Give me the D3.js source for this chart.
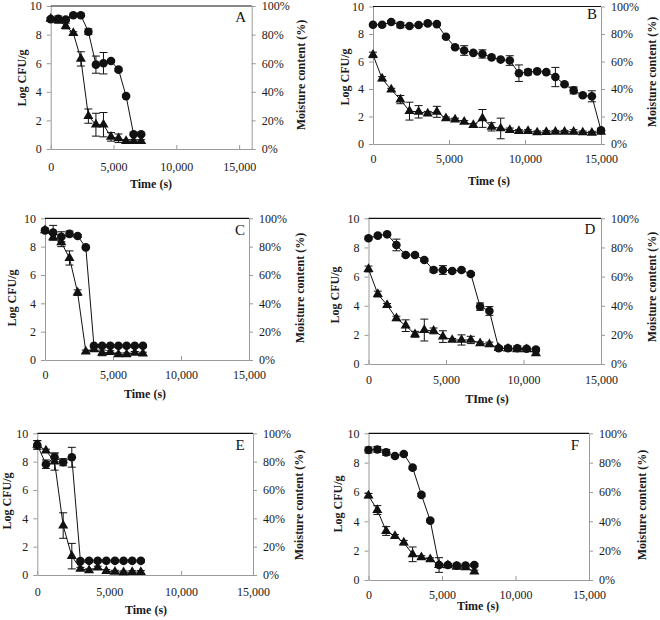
<!DOCTYPE html>
<html><head><meta charset="utf-8">
<script src="https://cdn.jsdelivr.net/npm/d3@7"></script>
<style>body{margin:0;background:#fff}svg{display:block}text{font-family:"Liberation Serif","Times New Roman",serif}</style>
</head><body>
<svg id="c" width="660" height="620"></svg>
<script>
// ---- Data ----
const timeShort = [0,600,1200,1800,2400,3000,3600,4200,4800,5400,6000,6600,7200];
const timeB = [0,600,1200,1800,2400,3000,3600,4200,4800,5400,6000,6600,7200,7800,8400,9000,9600,10200,10800,11400,12000,12600,13200,13800,14400,15000];
const timeD = [0,600,1200,1800,2400,3000,3600,4200,4800,5400,6000,6600,7200,7800,8400,9000,9600,10200,10800];

const cfuA = [9.08,9.1,9.05,9.35,9.35,8.2,5.9,6.0,6.15,5.55,3.7,1.03,1.03];
const cfuErrA = [0.1,0.2,0.1,0.1,0.1,0.2,0.6,0.75,0.1,0.1,0.1,0.1,0.1];
const moistA = [91,90,86,81,63,23,17,17,8.5,7.5,5.5,5.5,5.5];
const moistErrA = [1,2,2,1,5,5,8,8.5,3,3,1,1,1];

const cfuB = [8.67,8.67,8.87,8.65,8.58,8.65,8.77,8.72,7.8,7.04,6.8,6.63,6.55,6.3,6.14,6.07,5.15,5.23,5.28,5.23,4.87,4.34,3.9,3.54,3.47,1.0];
const cfuErrB = [0.1,0.1,0.1,0.2,0.1,0.1,0.1,0.1,0.1,0.1,0.35,0.1,0.3,0.1,0.1,0.35,0.6,0.2,0.1,0.1,0.7,0.1,0.25,0.1,0.4,0.1];
const moistB = [64.8,47.5,39.5,32.3,23.9,23.4,22.2,23.4,18.6,17.8,16.1,13.7,18.6,12.5,11.3,10.1,9.4,9.4,8.4,8.7,8.9,8.9,8.9,8.4,8.2,8.9];
const moistErrB = [2,1.5,1,3,6.5,4.5,1.5,4,1,1,1,1,6.5,3,7.5,1.5,1,1,1,1,1,1,1.5,1,1,1];

const cfuC = [9.15,9.0,8.7,8.9,8.75,7.95,1.0,1.0,1.0,1.0,1.0,1.0,1.0];
const cfuErrC = [0.1,0.5,0.35,0.2,0.1,0.1,0.1,0.1,0.1,0.1,0.1,0.1,0.1];
const moistC = [91.5,86.5,83,72,47.5,6,7.5,5,5.5,4,4,5,4.5];
const moistErrC = [1,2,3,5,2,1,1,2,1,1,1,1,1];

const cfuD = [8.63,8.81,8.9,8.17,7.48,7.48,7.14,6.45,6.45,6.38,6.45,6.18,3.94,3.64,1.08,1.08,1.08,1.05,1.0];
const cfuErrD = [0.1,0.1,0.1,0.4,0.1,0.1,0.1,0.15,0.3,0.1,0.1,0.1,0.25,0.3,0.1,0.15,0.15,0.1,0.1];
const moistD = [65.2,48,40.5,31.3,26.3,20.4,23.3,22.7,18.8,16.5,16.5,16.5,14.2,13.5,11,10.5,10,10,7.3];
const moistErrD = [2,2,1,1.5,4,2,7.5,2,4,1,3.5,2.5,1,1.5,1,1,1,1,1];

const cfuE = [9.18,7.82,8.31,7.96,8.31,0.98,1.0,1.0,1.0,1.0,1.0,1.0,1.0];
const cfuErrE = [0.3,0.3,0.3,0.25,0.7,0.1,0.1,0.1,0.1,0.1,0.1,0.1,0.1];
const moistE = [91.8,87.8,80,34.9,13.3,4.4,3.3,5.2,2.8,2.3,1.9,2.0,2.1];
const moistErrE = [3,1,6,9,9,1,1,1,1,1,1,1,1];

const cfuF = [8.86,8.9,8.7,8.45,8.59,7.66,5.8,4.05,1.02,1.02,0.98,0.98,1.02];
const cfuErrF = [0.2,0.2,0.2,0.1,0.1,0.1,0.1,0.1,0.1,0.1,0.15,0.1,0.1];
const moistF = [57.5,47.7,33.4,30,25.5,17.5,15.5,14.1,10.2,10,9,8.6,5.7];
const moistErrF = [1.5,3,3,1,1.5,5,1,1,5,1,1,1,1];

const yTicks = [0,2,4,6,8,10];
const yRightTicks = [0,20,40,60,80,100];
const xTicks = [0,5000,10000,15000];
const yTitle = "Log CFU/g";
const yRightTitle = "Moisture content (%)";

// ---- Layout per panel ----
const panels = [
 {id:"A", t:timeShort, c:cfuA, ce:cfuErrA, m:moistA, me:moistErrA, xmax:16000, L:50.7,R:251.7,T:6,B:149, logX:22, logY:78, moX:301, moY:75, tX:151, tY:184, xt:"Time (s)", lbX:240.7, lbY:17, tickOff:21},
 {id:"B", t:timeB, c:cfuB, ce:cfuErrB, m:moistB, me:moistErrB, xmax:15000, L:373,R:601,T:6.5,B:144, logX:345, logY:77, moX:652, moY:72, tX:489, tY:181, xt:"Time (s)", lbX:592, lbY:14, tickOff:18},
 {id:"C", t:timeShort, c:cfuC, ce:cfuErrC, m:moistC, me:moistErrC, xmax:15000, L:45,R:249,T:218.3,B:360, logX:12, logY:298, moX:300, moY:288, tX:145, tY:394, xt:"Time (s)", lbX:240, lbY:230, tickOff:18},
 {id:"D", t:timeD, c:cfuD, ce:cfuErrD, m:moistD, me:moistErrD, xmax:15000, L:368.5,R:601,T:218.3,B:364, logX:335, logY:295, moX:652, moY:287, tX:487, tY:399, xt:"TIme (s)", lbX:590, lbY:229, tickOff:19},
 {id:"E", t:timeShort, c:cfuE, ce:cfuErrE, m:moistE, me:moistErrE, xmax:15000, L:37.3,R:253,T:433.3,B:575, logX:7, logY:501, moX:299, moY:505, tX:146, tY:610, xt:"Time (s)", lbX:240, lbY:445, tickOff:20},
 {id:"F", t:timeShort, c:cfuF, ce:cfuErrF, m:moistF, me:moistErrF, xmax:15000, L:368.5,R:589,T:433.3,B:580, logX:338, logY:504, moX:642, moY:505, tX:478, tY:606, xt:"Time (s)", lbX:575, lbY:445, tickOff:18}
];

const svg = d3.select("#c");
svg.append("rect").attr("width",660).attr("height",620).attr("fill","#fff");
const gray = "#9a9a9a";
const fmt = d3.format(",");
const tri = d3.symbol(d3.symbolTriangle, 44);

panels.forEach(p => {
  const g = svg.append("g");
  const x = d3.scaleLinear().domain([0,p.xmax]).range([p.L,p.R]);
  const y = d3.scaleLinear().domain([0,10]).range([p.B,p.T]);
  const y2 = d3.scaleLinear().domain([0,100]).range([p.B,p.T]);

  const ax = g.append("g").attr("transform",`translate(0,${p.B})`)
    .call(d3.axisBottom(x).tickValues(xTicks).tickFormat(fmt).tickSizeInner(-4).tickSizeOuter(0).tickPadding(p.tickOff-8));
  const ayl = g.append("g").attr("transform",`translate(${p.L},0)`)
    .call(d3.axisLeft(y).tickValues(yTicks).tickSizeInner(4).tickSizeOuter(0).tickPadding(5));
  const ayr = g.append("g").attr("transform",`translate(${p.R},0)`)
    .call(d3.axisRight(y2).tickValues(yRightTicks).tickFormat(d=>d+"%").tickSizeInner(4).tickSizeOuter(0).tickPadding(6));
  [ax,ayl,ayr].forEach(a=>{
    a.selectAll("path,line").attr("stroke",gray);
    a.selectAll("text").attr("font-size",12).attr("fill","#1a1a1a").attr("font-family","'Liberation Serif',serif");
  });
  ax.selectAll("text").attr("dy","0.71em");
  g.append("line").attr("x1",p.L).attr("x2",p.R).attr("y1",p.T).attr("y2",p.T).attr("stroke","#111").attr("stroke-width",1.2);

  g.append("text").attr("transform",`translate(${p.logX},${p.logY}) rotate(-90)`).attr("text-anchor","middle").attr("dy","0.35em")
    .attr("font-size",12).attr("font-weight","bold").attr("fill","#1a1a1a").text(yTitle);
  g.append("text").attr("transform",`translate(${p.moX},${p.moY}) rotate(-90)`).attr("text-anchor","middle").attr("dy","0.35em")
    .attr("font-size",12).attr("font-weight","bold").attr("fill","#1a1a1a").text(yRightTitle);
  g.append("text").attr("x",p.tX).attr("y",p.tY).attr("text-anchor","middle").attr("dy","0.35em")
    .attr("font-size",12).attr("font-weight","bold").attr("fill","#1a1a1a").text(p.xt);
  g.append("text").attr("x",p.lbX).attr("y",p.lbY).attr("text-anchor","middle").attr("dy","0.35em")
    .attr("font-size",15).attr("fill","#111").text(p.id);

  const cData = p.t.map((t,i)=>({t, v:p.c[i], e:p.ce[i]}));
  const mData = p.t.map((t,i)=>({t, v:p.m[i], e:p.me[i]}));

  g.append("path").datum(cData).attr("fill","none").attr("stroke","#111").attr("stroke-width",1)
    .attr("d", d3.line().x(d=>x(d.t)).y(d=>y(d.v)));
  g.append("path").datum(mData).attr("fill","none").attr("stroke","#111").attr("stroke-width",1)
    .attr("d", d3.line().x(d=>x(d.t)).y(d=>y2(d.v)));

  function errBars(data, sc){
    const eg = g.append("g").attr("stroke","#111").attr("stroke-width",1);
    data.forEach(d=>{
      const cx = x(d.t), y1 = sc(d.v - d.e), y0 = sc(d.v + d.e);
      eg.append("line").attr("x1",cx).attr("x2",cx).attr("y1",y0).attr("y2",y1);
      eg.append("line").attr("x1",cx-4).attr("x2",cx+4).attr("y1",y0).attr("y2",y0);
      eg.append("line").attr("x1",cx-4).attr("x2",cx+4).attr("y1",y1).attr("y2",y1);
    });
  }
  errBars(cData, y);
  errBars(mData, y2);

  g.append("g").selectAll("circle").data(cData).join("circle")
    .attr("cx",d=>x(d.t)).attr("cy",d=>y(d.v)).attr("r",4.3).attr("fill","#111");
  g.append("g").selectAll("path").data(mData).join("path")
    .attr("d",tri).attr("transform",d=>`translate(${x(d.t)},${y2(d.v)})`).attr("fill","#111");
});
</script>
</body></html>
